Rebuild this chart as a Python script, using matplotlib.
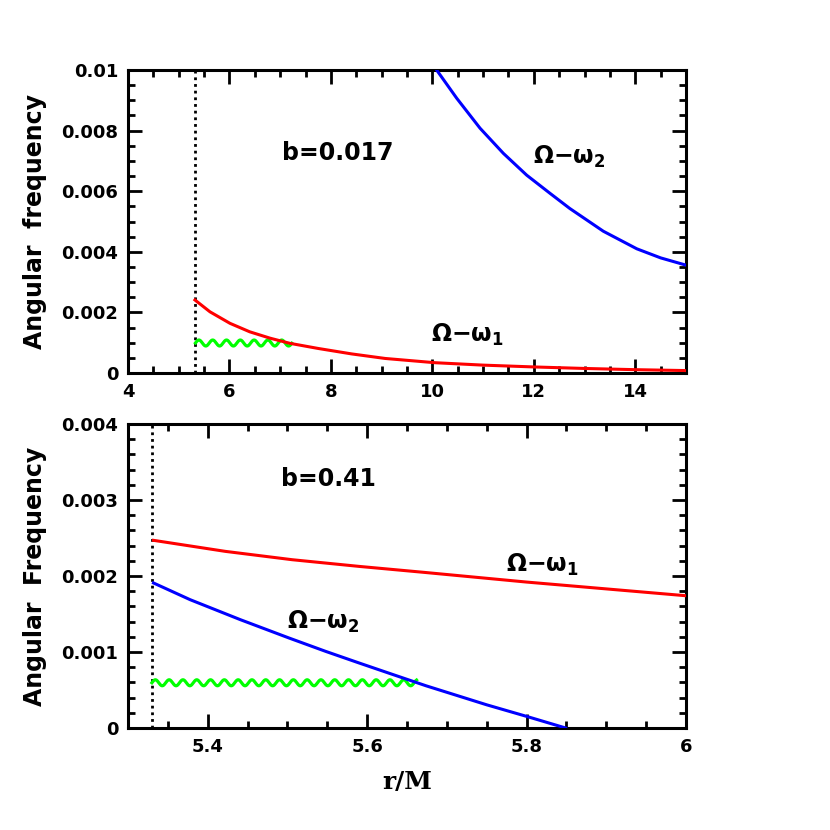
import numpy as np
import matplotlib.pyplot as plt
from matplotlib.ticker import MultipleLocator

plt.rcParams['font.family'] = 'DejaVu Sans'
plt.rcParams['font.weight'] = 'bold'
plt.rcParams['mathtext.fontset'] = 'custom'
plt.rcParams['mathtext.rm'] = 'DejaVu Sans:bold'
plt.rcParams['mathtext.it'] = 'DejaVu Sans:bold'
plt.rcParams['mathtext.bf'] = 'DejaVu Sans:bold'

# upper panel, b = 0.017
r_isco = 5.33
r1_top = [5.32, 5.616, 6.01, 6.40, 6.80, 7.19, 7.75, 8.41, 9.07, 10.05,
          11.0, 12.0, 13.0, 14.0, 15.0]
w1_top = [0.00241, 0.00202, 0.00164, 0.00136, 0.00115, 0.00098, 0.00081, 0.00063,
          0.00048, 0.00034, 0.00026, 0.00020, 0.00015, 0.00011, 0.00008]
r2_top = [10.085, 10.48, 10.94, 11.40, 11.86, 12.32, 12.71, 13.37, 14.03, 14.5, 15.0]
w2_top = [0.0100, 0.00907, 0.00808, 0.00725, 0.00653, 0.00593, 0.00543, 0.00468,
          0.00410, 0.00380, 0.00356]
wave_top = (5.33, 7.23, 0.00099)

# lower panel, b = 0.41
r1_bot = [5.332, 5.422, 5.506, 5.590, 5.672, 5.8, 6.0]
w1_bot = [0.002469, 0.002324, 0.002214, 0.002126, 0.002047, 0.00192, 0.00174]
r2_bot = [5.332, 5.378, 5.441, 5.502, 5.548, 5.590, 5.633, 5.674, 5.75, 5.8, 5.849]
w2_bot = [0.001908, 0.001688, 0.001425, 0.001184, 0.001008, 0.000855, 0.000701,
          0.000555, 0.000305, 0.000153, 0.0]
wave_bot = (5.33, 5.662, 0.000595)


def wavy(ax, x0, x1, y0, period_px=13.8, amp_px=3.0):
    # decorative sine wave drawn in pixel units between x0 and x1
    fig.canvas.draw()
    p0 = ax.transData.transform((x0, y0))
    p1 = ax.transData.transform((x1, y0))
    n = int((p1[0] - p0[0]) / period_px * 20) + 2
    px = np.linspace(p0[0], p1[0], n)
    py = p0[1] + amp_px * np.sin(2 * np.pi * (px - p0[0]) / period_px)
    pts = ax.transData.inverted().transform(np.column_stack([px, py]))
    ax.plot(pts[:, 0], pts[:, 1], color='#00ff00', lw=2.3, zorder=3)


def style(ax):
    for s in ax.spines.values():
        s.set_linewidth(2.2)
    ax.tick_params(which='both', direction='in', top=True, right=True,
                   labelsize=13, width=2)
    ax.tick_params(which='major', length=10, pad=7)
    ax.tick_params(which='minor', length=5)
    for lab in ax.get_xticklabels() + ax.get_yticklabels():
        lab.set_fontweight('bold')


fig = plt.figure(figsize=(8.3, 8.3), dpi=100)
ax1 = fig.add_axes([0.1542, 0.5506, 0.6723, 0.3650])
ax2 = fig.add_axes([0.1542, 0.1229, 0.6723, 0.3663])

lab1 = r'$\Omega{-}\omega_1$'
lab2 = r'$\Omega{-}\omega_2$'

# top
ax1.set_xlim(4, 15)
ax1.set_ylim(0, 0.01)
ax1.xaxis.set_major_locator(MultipleLocator(2))
ax1.xaxis.set_minor_locator(MultipleLocator(0.5))
ax1.set_yticks([0, 0.002, 0.004, 0.006, 0.008, 0.01])
ax1.set_yticklabels(['0', '0.002', '0.004', '0.006', '0.008', '0.01'])
ax1.yaxis.set_minor_locator(MultipleLocator(0.0005))
ax1.axvline(r_isco, color='black', lw=2.0, linestyle=(0, (1, 1.4)))
ax1.plot(r1_top, w1_top, color='red', lw=2.2, zorder=4)
ax1.plot(r2_top, w2_top, color='blue', lw=2.2, zorder=4)
ax1.text(8.13, 0.00726, 'b=0.017', fontsize=17, ha='center', va='center')
ax1.text(12.7, 0.00714, lab2, fontsize=17, ha='center', va='center')
ax1.text(10.68, 0.00125, lab1, fontsize=17, ha='center', va='center')
ax1.set_ylabel('Angular  frequency', fontsize=17, fontweight='bold')
ax1.yaxis.set_label_coords(-0.145, 0.5)
style(ax1)

# bottom
ax2.set_xlim(5.3, 6)
ax2.set_ylim(0, 0.004)
ax2.set_xticks([5.4, 5.6, 5.8, 6.0])
ax2.set_xticklabels(['5.4', '5.6', '5.8', '6'])
ax2.xaxis.set_minor_locator(MultipleLocator(0.05))
ax2.set_yticks([0, 0.001, 0.002, 0.003, 0.004])
ax2.set_yticklabels(['0', '0.001', '0.002', '0.003', '0.004'])
ax2.yaxis.set_minor_locator(MultipleLocator(0.0002))
ax2.axvline(r_isco, color='black', lw=2.0, linestyle=(0, (1, 1.4)))
ax2.plot(r1_bot, w1_bot, color='red', lw=2.2, zorder=4)
ax2.plot(r2_bot, w2_bot, color='blue', lw=2.2, zorder=4)
ax2.text(5.551, 0.00327, 'b=0.41', fontsize=17, ha='center', va='center')
ax2.text(5.545, 0.00140, lab2, fontsize=17, ha='center', va='center')
ax2.text(5.82, 0.00215, lab1, fontsize=17, ha='center', va='center')
ax2.set_ylabel('Angular  Frequency', fontsize=17, fontweight='bold')
ax2.yaxis.set_label_coords(-0.145, 0.5)
ax2.set_xlabel('r/M', fontsize=18, fontweight='bold', family='DejaVu Serif',
               labelpad=10)
style(ax2)

wavy(ax1, *wave_top)
wavy(ax2, *wave_bot)

fig.savefig('out.png', dpi=100)
